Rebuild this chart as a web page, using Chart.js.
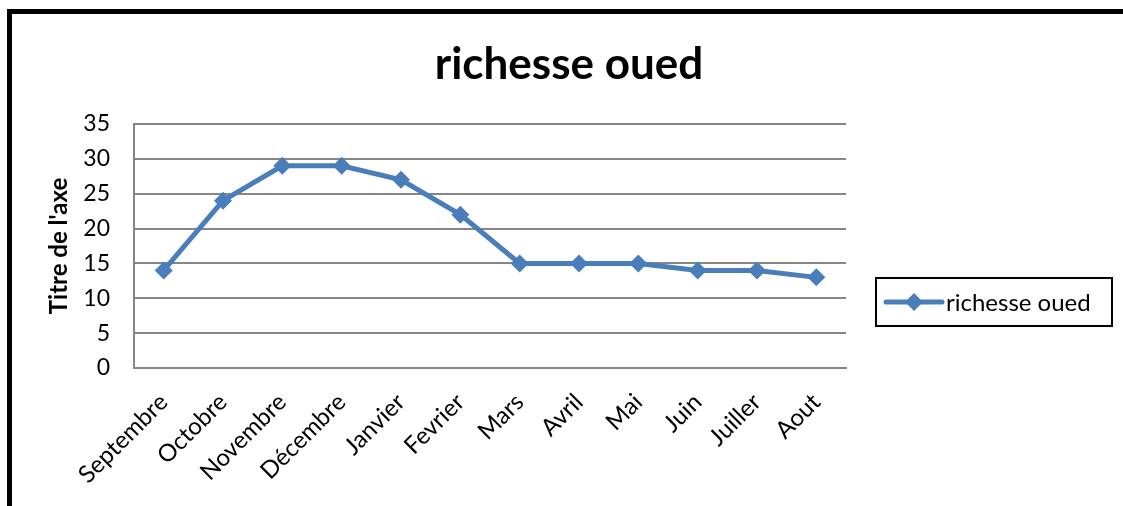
<!DOCTYPE html>
<html>
<head>
<meta charset="utf-8">
<style>
  html, body { margin: 0; padding: 0; background: #fff; }
  #wrap { width: 1123px; height: 506px; }
</style>
<script src="https://cdn.jsdelivr.net/npm/chart.js"></script>
</head>
<body>
<div id="wrap"><canvas id="lineChart" width="1123" height="506"></canvas></div>
<script>
// data
const months = ['Septembre', 'Octobre', 'Novembre', 'Décembre', 'Janvier', 'Fevrier',
                'Mars', 'Avril', 'Mai', 'Juin', 'Juiller', 'Aout'];
const richesse = [14, 24, 29, 29, 27, 22, 15, 15, 15, 14, 14, 13];
const yTicks = [0, 5, 10, 15, 20, 25, 30, 35];

const seriesName = 'richesse oued';
const blue = '#4A7EBB';
const gridGray = '#868686';

// black frame round the chart (only left and top are visible in the picture)
// + the big title, centred on the whole frame and not only on the plot
const framePlugin = {
  id: 'frame',
  beforeDraw(chart) {
    const c = chart.ctx;
    c.save();
    c.fillStyle = '#fff';
    c.fillRect(0, 0, chart.width, chart.height);
    c.fillStyle = '#000';
    c.fillRect(7, 9, 5, chart.height - 9);
    c.fillRect(7, 9, chart.width - 7, 5);
    c.font = 'bold 44px Lato';
    c.textAlign = 'center';
    c.textBaseline = 'alphabetic';
    c.fillText(seriesName, 569, 79);
    c.restore();
  }
};

// legend in a box, to the right of the plot
const boxLegend = {
  id: 'boxLegend',
  afterDraw(chart) {
    const c = chart.ctx;
    const area = chart.chartArea;
    const x = area.right + 30, y = 278, w = 236, h = 48;
    const cy = y + h / 2;
    c.save();
    c.strokeStyle = '#000';
    c.lineWidth = 2;
    c.strokeRect(x, y, w, h);
    c.strokeStyle = blue;
    c.lineWidth = 5;
    c.lineCap = 'round';
    c.beginPath();
    c.moveTo(x + 10, cy);
    c.lineTo(x + 66, cy);
    c.stroke();
    c.fillStyle = blue;
    c.beginPath();
    c.moveTo(x + 38, cy - 9);
    c.lineTo(x + 47, cy);
    c.lineTo(x + 38, cy + 9);
    c.lineTo(x + 29, cy);
    c.closePath();
    c.fill();
    c.fillStyle = '#000';
    c.font = '24px Lato';
    c.textBaseline = 'middle';
    c.fillText(seriesName, x + 70, cy + 1);
    c.restore();
  }
};

new Chart(document.getElementById('lineChart'), {
  type: 'line',
  data: {
    labels: months,
    datasets: [{
      label: seriesName,
      data: richesse,
      borderColor: blue,
      backgroundColor: blue,
      borderWidth: 5,
      pointStyle: 'rectRot',
      pointRadius: 9,
      pointHoverRadius: 9,
      pointBorderWidth: 0,
      tension: 0
    }]
  },
  options: {
    responsive: false,
    animation: false,
    layout: { padding: { left: 30, right: 277, top: 124, bottom: 0 } },
    plugins: {
      legend: { display: false },
      tooltip: { enabled: false },
      title: { display: false }
    },
    scales: {
      x: {
        offset: true,
        grid: { color: 'rgba(0,0,0,0)', drawTicks: false },
        border: { display: true, color: gridGray, width: 2 },
        ticks: {
          color: '#000',
          font: { family: 'Lato', size: 24 },
          minRotation: 45,
          maxRotation: 45,
          padding: 20
        },
        afterFit(scale) { scale.height = 138; }
      },
      y: {
        min: 0,
        max: 35,
        afterBuildTicks(scale) { scale.ticks = yTicks.map(v => ({ value: v })); },
        grid: { color: gridGray, lineWidth: 2, drawTicks: false },
        border: { display: true, color: gridGray, width: 2 },
        ticks: {
          color: '#000',
          font: { family: 'Lato', size: 23 },
          padding: 24
        },
        title: {
          display: true,
          text: "Titre de l'axe",
          color: '#000',
          font: { family: 'Lato', size: 24, weight: 'bold' },
          padding: { top: 15, bottom: 0 }
        },
        afterFit(scale) { scale.width = 104; }
      }
    }
  },
  plugins: [framePlugin, boxLegend]
});
</script>
</body>
</html>
